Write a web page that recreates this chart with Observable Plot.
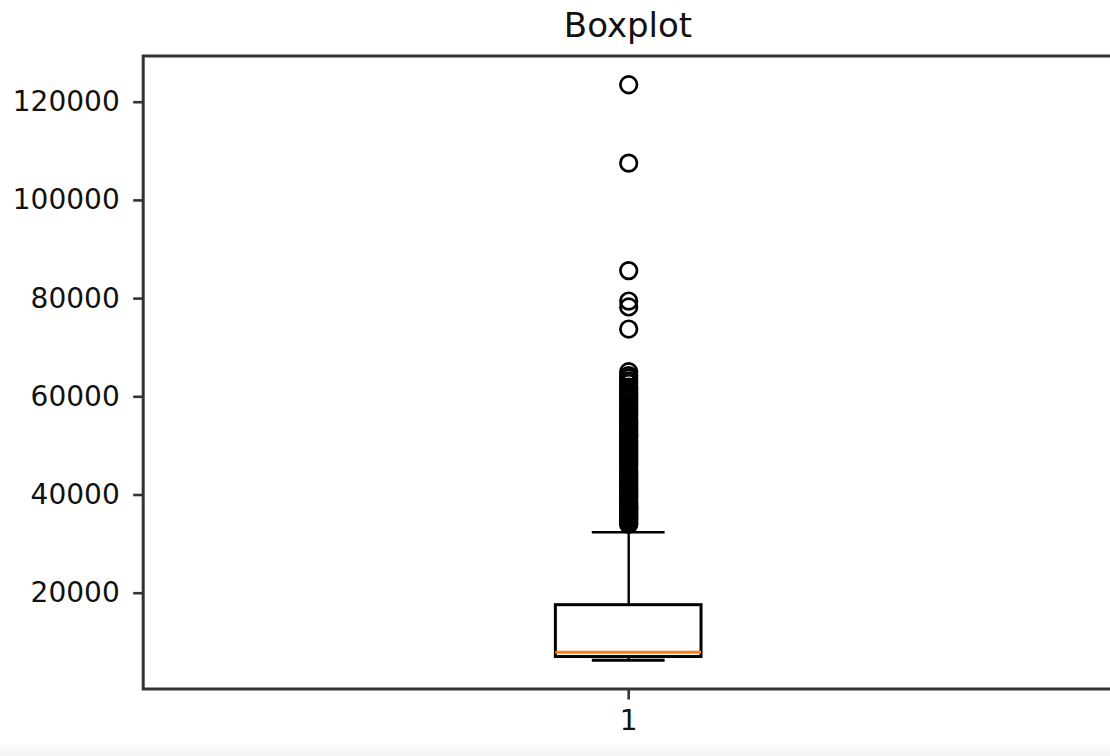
<!DOCTYPE html>
<html>
<head>
<meta charset="utf-8">
<script src="https://cdn.jsdelivr.net/npm/d3@7"></script>
<script src="https://cdn.jsdelivr.net/npm/@observablehq/plot@0.6"></script>
<style>
  html, body { margin: 0; padding: 0; background: white; overflow: hidden; }
  body { width: 1110px; height: 756px; position: relative; font-family: "DejaVu Sans", sans-serif; }
  #chart { position: absolute; top: 0; left: 0; z-index: 0; }
  #title { position: absolute; top: 8px; left: 628px; transform: translateX(-50%); z-index: 1;
           font-size: 34px; line-height: 34px; color: #111; white-space: nowrap; }
  #strip { position: absolute; left: 0; right: 0; bottom: 0; height: 12px; z-index: 1;
           background: linear-gradient(#fdfdfd, #f3f3f3); }
</style>
</head>
<body>
<div id="chart"></div>
<div id="title">Boxplot</div>
<div id="strip"></div>
<script>
// Summary statistics of the single box (position 1)
const categories = ["1"];
const positions = [1];
const whiskerLow = [6350];
const q1 = [7000];
const median = [7980];
const q3 = [17560];
const whiskerHigh = [32400];

// Points beyond the upper whisker
const outliers = [
  123550, 107600, 85700, 79500, 78300, 73800,
  65100, 64300, 63800, 63200, 62700, 61950, 61500, 61000, 60500, 60100,
  59700, 59250, 58800, 58500, 57880, 57400, 57000, 56600, 56200, 55700,
  55300, 54900, 54600, 54200, 53800, 53400, 53000, 52600, 52300, 51900,
  51700, 51100, 50700, 50300, 49900, 49600, 49200, 48900, 48500, 48200,
  47800, 47500, 47100, 46800, 46400, 46100, 45600, 45000, 44600, 44300,
  43900, 43700, 43300, 43100, 42600, 42200, 41900, 41500, 41200, 40900,
  40600, 40300, 40000, 39700, 39400, 38880, 38500, 38200, 37900, 37600,
  37300, 37000, 36700, 36400, 36100, 35800, 35500, 35300, 35100, 34900,
  34460, 34200, 34000
];

// Axis ticks
const yTicks = [20000, 40000, 60000, 80000, 100000, 120000];
const xTicks = [1];

const boxes = positions.map((p, i) => ({
  pos: p, label: categories[i], lo: whiskerLow[i], q1: q1[i], med: median[i], q3: q3[i], hi: whiskerHigh[i]
}));
const fliers = outliers.map(v => ({pos: positions[0], value: v}));

const halfBox = 0.075;   // box half-width in x units
const halfCap = 0.0375;  // whisker cap half-width

const H = 745;
const chart = Plot.plot({
  width: 1110,
  height: H,
  marginLeft: 142.7,
  marginRight: -3.7,
  marginTop: 55.5,
  marginBottom: H - 688.5,
  style: {fontFamily: "DejaVu Sans, sans-serif", fontSize: "28px", color: "#111", background: "white", overflow: "visible"},
  x: {type: "linear", domain: [0.5, 1.5]},
  y: {domain: [489, 129410]},
  marks: [
    // whiskers
    Plot.ruleX(boxes, {x: "pos", y1: "q3", y2: "hi", stroke: "black", strokeWidth: 2.4}),
    Plot.ruleX(boxes, {x: "pos", y1: "lo", y2: "q1", stroke: "black", strokeWidth: 2.4}),
    Plot.ruleY(boxes, {y: "hi", x1: d => d.pos - halfCap, x2: d => d.pos + halfCap, stroke: "black", strokeWidth: 2.6}),
    Plot.ruleY(boxes, {y: "lo", x1: d => d.pos - halfCap, x2: d => d.pos + halfCap, stroke: "black", strokeWidth: 3}),
    // box
    Plot.rect(boxes, {x1: d => d.pos - halfBox, x2: d => d.pos + halfBox, y1: "q1", y2: "q3",
      fill: "white", stroke: "black", strokeWidth: 3}),
    // median
    Plot.ruleY(boxes, {y: "med", x1: d => d.pos - halfBox, x2: d => d.pos + halfBox, stroke: "#ff7f0e", strokeWidth: 3}),
    // fliers
    Plot.dot(fliers, {x: "pos", y: "value", r: 8.3, stroke: "black", strokeWidth: 2.7, fill: "none"}),
    // axes
    Plot.axisY({ticks: yTicks, tickFormat: d => String(d), tickSize: 9.5, tickPadding: 14,
      stroke: "#333", strokeWidth: 2.6, fill: "#111", label: null}),
    Plot.axisX({ticks: xTicks, tickFormat: d => categories[positions.indexOf(d)], tickSize: 11, tickPadding: 10,
      stroke: "#333", strokeWidth: 2.6, fill: "#111", label: null}),
    Plot.frame({stroke: "#333", strokeWidth: 3})
  ]
});
document.getElementById("chart").appendChild(chart);
</script>
</body>
</html>
